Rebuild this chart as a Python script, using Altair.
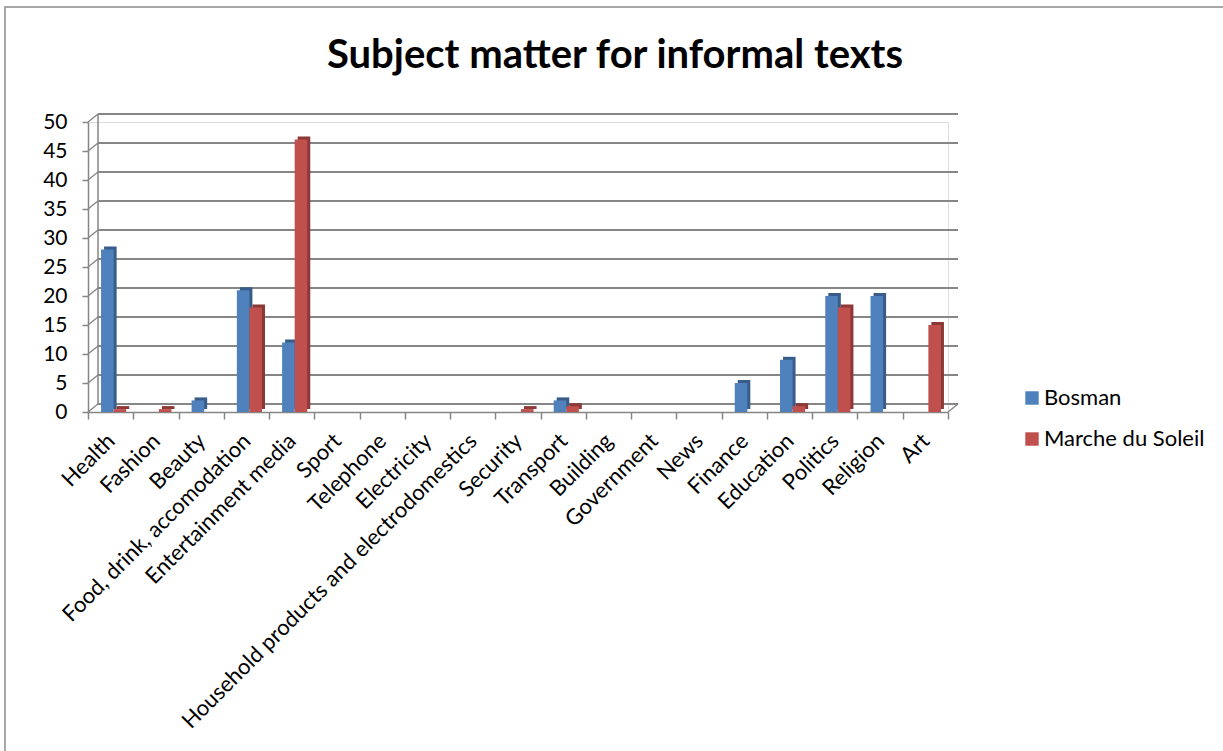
import altair as alt
import pandas as pd

# Subject categories and counts per newspaper
categories = [
    "Health", "Fashion", "Beauty", "Food, drink, accomodation",
    "Entertainment media", "Sport", "Telephone", "Electricity",
    "Household products and electrodomestics", "Security", "Transport",
    "Building", "Government", "News", "Finance", "Education", "Politics",
    "Religion", "Art",
]
bosman = [28, 0, 2, 21, 12, 0, 0, 0, 0, 0, 2, 0, 0, 0, 5, 9, 20, 20, 0]
marche = [0.5, 0.5, 0, 18, 47, 0, 0, 0, 0, 0.5, 1, 0, 0, 0, 0, 1, 18, 0, 15]
series = ["Bosman", "Marche du Soleil"]
front_colors = ["#4F81BD", "#C0504D"]
side_colors = ["#385D8A", "#8C3836"]
y_ticks = list(range(0, 55, 5))

rows = []
for i, cat in enumerate(categories):
    rows.append({"cat": cat, "series": series[0], "value": bosman[i]})
    rows.append({"cat": cat, "series": series[1], "value": marche[i]})
df = pd.DataFrame(rows)
grid_df = pd.DataFrame({"v": y_ticks})

W, H = 860, 290
LEFT, TOP = 88, 122
FONT = "Lato"
GRID = "#868686"
BAND = W / len(categories)

x_enc = alt.X(
    "cat:N",
    sort=categories,
    scale=alt.Scale(domain=categories, paddingInner=0, paddingOuter=0),
    axis=alt.Axis(
        title=None, labelAngle=-45, labelFontSize=22, labelFont=FONT,
        labelColor="#000000", tickBand="extent", tickSize=7,
        tickColor=GRID, tickWidth=1.5, domainColor=GRID, domainWidth=1.5,
        labelPadding=11, labelOffset=-7, labelLimit=600,
    ),
)
y_axis = alt.Axis(
    title=None, values=y_ticks, grid=False, tickSize=6, tickColor=GRID,
    tickWidth=1.5, domainColor=GRID, domainWidth=1.5, labelFontSize=21,
    labelFont=FONT, labelColor="#000000", labelPadding=15,
)
y_scale = alt.Scale(domain=[0, 50], nice=False)


def xoff(shift):
    # two bars per category, moved right by `shift` pixels
    return alt.XOffset(
        "series:N", sort=series,
        scale=alt.Scale(domain=series, paddingOuter=0.8, paddingInner=0,
                        range=[shift, BAND + shift]),
    )


# back wall gridlines, pushed back for the depth effect
back_grid = alt.Chart(grid_df).mark_rule(
    color=GRID, strokeWidth=1.8, xOffset=10, x2Offset=10, yOffset=-8
).encode(
    y=alt.Y("v:Q", scale=y_scale, axis=y_axis),
    x=alt.value(0), x2=alt.value(W),
)
# short diagonals joining the axis ticks to the back wall
connectors = alt.Chart(grid_df).mark_rule(
    color=GRID, strokeWidth=1.5, y2Offset=-8
).encode(
    y=alt.Y("v:Q", scale=y_scale, axis=y_axis),
    y2="v:Q",
    x=alt.value(0), x2=alt.value(10),
)
floor_right = alt.Chart(grid_df[grid_df.v == 0]).mark_rule(
    color=GRID, strokeWidth=1.5, y2Offset=-8
).encode(
    y=alt.Y("v:Q", scale=y_scale, axis=y_axis),
    y2="v:Q",
    x=alt.value(W), x2=alt.value(W + 10),
)
back_wall = alt.Chart(grid_df[grid_df.v == 0]).mark_rule(
    color=GRID, strokeWidth=1.5, yOffset=-8, y2Offset=-8
).encode(
    y=alt.value(0), y2=alt.value(H), x=alt.value(10),
)

# darker shifted copy gives each bar a side and top face
sides = alt.Chart(df).mark_bar(yOffset=-3, y2Offset=-3).encode(
    x=x_enc, y=alt.Y("value:Q", scale=y_scale, axis=y_axis), xOffset=xoff(6),
    color=alt.Color("series:N", scale=alt.Scale(domain=series, range=side_colors), legend=None),
)
fronts = alt.Chart(df).mark_bar().encode(
    x=x_enc, y=alt.Y("value:Q", scale=y_scale, axis=y_axis), xOffset=xoff(3),
    color=alt.Color(
        "series:N",
        scale=alt.Scale(domain=series, range=front_colors),
        legend=alt.Legend(
            title=None, orient="none", legendX=933, legendY=265,
            symbolType="square", symbolSize=180, symbolStrokeWidth=0,
            labelFontSize=22, labelFont=FONT, labelColor="#000000",
            rowPadding=19, labelOffset=1, labelLimit=400,
        ),
    ),
)

frame = alt.Chart(grid_df[grid_df.v == 0]).mark_rect(
    fill=None, stroke="#8c8c8c", strokeWidth=1.5
).encode(
    x=alt.value(5 - LEFT), x2=alt.value(1223 - LEFT + 10),
    y=alt.value(7 - TOP), y2=alt.value(751 - TOP + 10),
)

chart = alt.layer(
    frame, back_grid, back_wall, connectors, floor_right, sides, fronts
).resolve_scale(color="independent", xOffset="independent").properties(
    width=W, height=H,
    padding={"left": LEFT, "top": TOP, "right": 1223 - LEFT - W, "bottom": 751 - TOP - H},
    autosize=alt.AutoSizeParams(type="none"),
    title=alt.Title(
        "Subject matter for informal texts", font=FONT, fontSize=40,
        fontWeight="bold", color="#000000", anchor="middle", frame="group",
        dx=97, offset=-102, baseline="alphabetic",
    ),
).configure_view(stroke=None).configure(background="#ffffff")

chart.save("out.html", embed_options={"renderer": "svg", "actions": False})
